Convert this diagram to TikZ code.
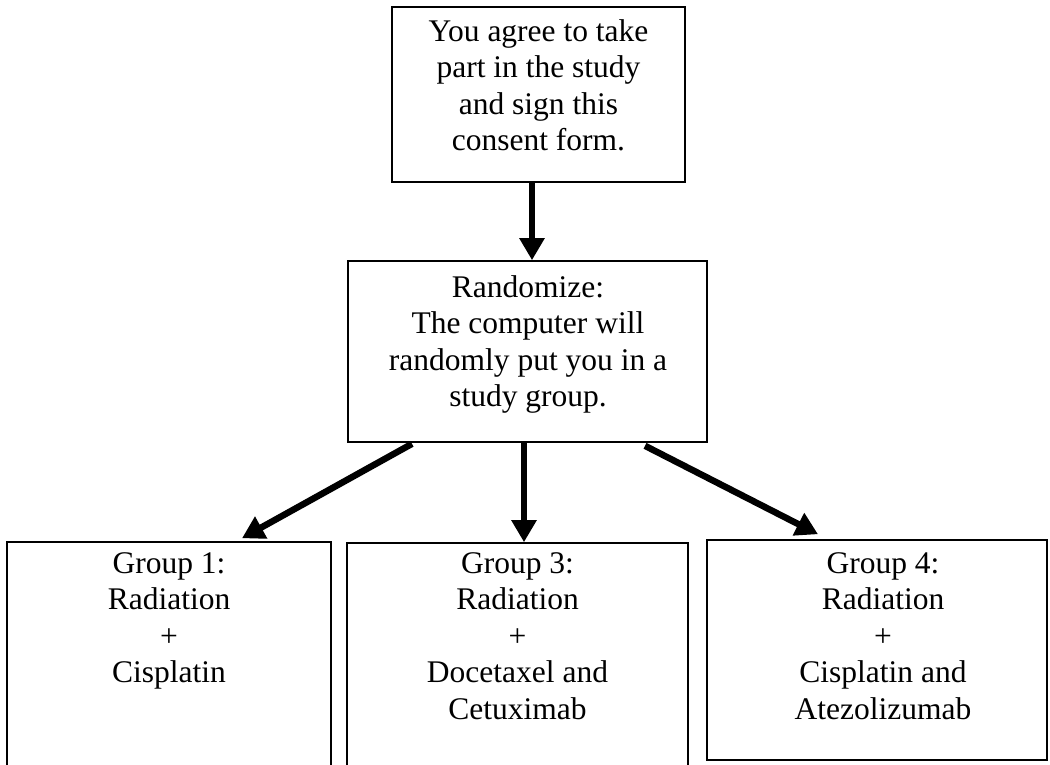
\documentclass[tikz,border=0pt]{standalone}
\usepackage{fontspec}
\setmainfont{Liberation Serif}
\usetikzlibrary{arrows.meta}
\tikzset{
  box/.style={draw=black, line width=1.6pt, rectangle, inner sep=0pt, fill=none},
  txt/.style={align=center, inner sep=0pt, anchor=north,
    font=\fontsize{31.5}{36.5}\selectfont, execute at begin node={\rule{0pt}{28pt}}},
  arr/.style={line width=6.5pt, line cap=butt, -{Triangle[width=24pt,length=22pt]}}
}
\begin{document}
\begin{tikzpicture}[x=1pt,y=-1pt]
\path[use as bounding box] (0,0) rectangle (1050,764);
\clip (0,0) rectangle (1050,764);
% boxes
\node[box, minimum width=293pt, minimum height=175pt] (top) at (538.5,94.5) {};
\node[box, minimum width=359pt, minimum height=181pt] (rand) at (527.5,351.5) {};
\node[box, minimum width=324pt, minimum height=238pt] (g1) at (169,661) {};
\node[box, minimum width=341pt, minimum height=237pt] (g3) at (517.5,661.5) {};
\node[box, minimum width=340pt, minimum height=220pt] (g4) at (877,650) {};
% texts
\node[txt] (ttop) at (538.5,19) {You agree to take\\part in the study\\and sign this\\consent form.};
\node[txt] (trand) at (528,275) {Randomize:\\The computer will\\randomly put you in a\\study group.};
\node[txt] (tg1) at (169,552) {Group 1:\\Radiation\\+\\Cisplatin};
\node[txt] (tg3) at (517.5,552) {Group 3:\\Radiation\\+\\Docetaxel and\\Cetuximab};
\node[txt] (tg4) at (883,552) {Group 4:\\Radiation\\+\\Cisplatin and\\Atezolizumab};
% arrows
\draw[arr] ([xshift=-6.5pt]top.south) -- ([xshift=-6.5pt]top.south |- rand.north);
\draw[arr] ([xshift=-3.5pt]rand.south) -- ([xshift=-3.5pt]rand.south |- g3.north);
\draw[arr] ([xshift=-115.5pt,yshift=-1pt]rand.south) -- ([xshift=73pt,yshift=3pt]g1.north);
\draw[arr] ([xshift=117.5pt,yshift=-3pt]rand.south) -- ([xshift=-59pt,yshift=5pt]g4.north);
\end{tikzpicture}
\end{document}
